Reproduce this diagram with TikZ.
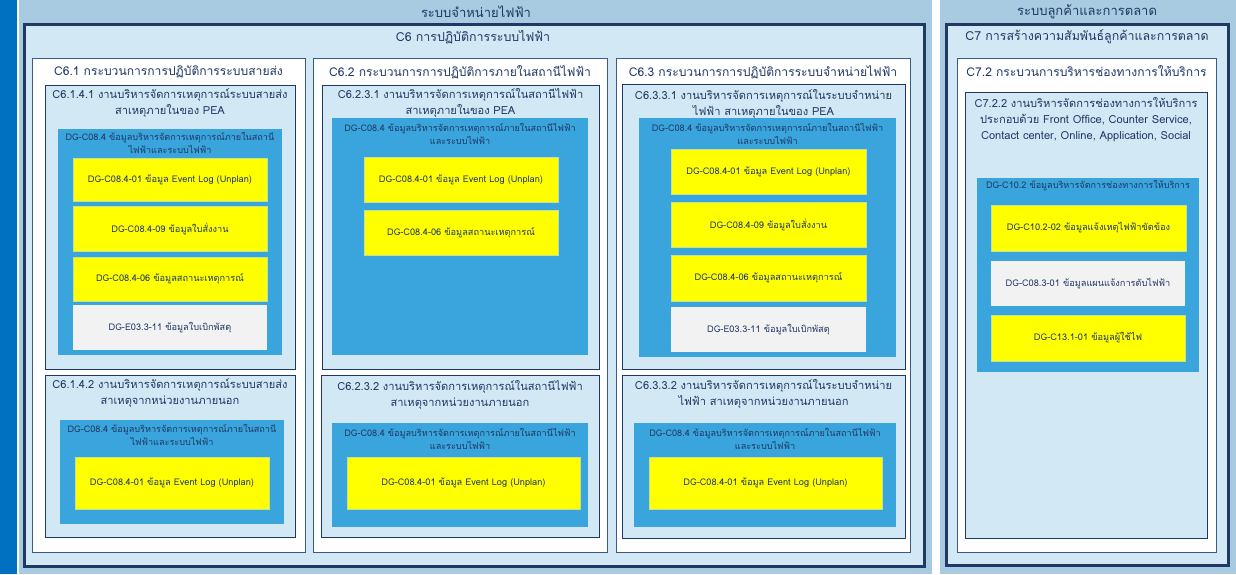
\documentclass[tikz,border=0pt]{standalone}
\usepackage{fontspec}
\setmainfont[Script=Thai]{Loma}
\definecolor{stripblue}{RGB}{0,112,192}
\definecolor{bgblue}{RGB}{169,203,225}
\definecolor{lightblue}{RGB}{210,232,245}
\definecolor{navy}{RGB}{31,56,100}
\definecolor{colborder}{RGB}{60,90,130}
\definecolor{midblue}{RGB}{58,165,220}
\definecolor{ylw}{RGB}{255,255,0}
\definecolor{ylwborder}{RGB}{190,225,160}
\definecolor{greybox}{RGB}{242,242,242}
\definecolor{txt}{RGB}{31,56,100}
\newcommand\bx[6]{\node[#1,anchor=north west,inner sep=0pt,outer sep=0pt,minimum width={(#5-#3)*1pt},minimum height={(#6-#4)*1pt}] (#2) at (#3,-#4) {};}
\tikzset{
  panel/.style={fill=bgblue,draw=none},
  strip/.style={fill=stripblue,draw=none},
  outerbox/.style={fill=lightblue,draw=navy,line width=3pt},
  colbox/.style={fill=white,draw=colborder,line width=0.8pt},
  subbox/.style={fill=lightblue,draw=navy,line width=0.8pt},
  bluebox/.style={fill=midblue,draw=none},
  ybox/.style={fill=ylw,draw=ylwborder,line width=0.6pt},
  gbox/.style={fill=greybox,draw=none},
  hdr/.style={text=txt,align=center,inner sep=0pt,font=\fontsize{13}{15}\selectfont},
  otitle/.style={text=txt,align=center,inner sep=0pt,font=\fontsize{12.4}{15}\selectfont},
  coltitle/.style={text=txt,align=center,inner sep=0pt,font=\fontsize{12.1}{15}\selectfont},
  subtitle/.style={text=txt,align=center,inner sep=0pt,font=\fontsize{11.1}{16}\selectfont},
  dgtitle/.style={text=txt,align=center,inner sep=0pt,font=\fontsize{9.1}{13}\selectfont},
  itemtxt/.style={text=txt,align=center,inner sep=0pt,font=\fontsize{9.2}{11}\selectfont},
}
\begin{document}
\begin{tikzpicture}[x=1pt,y=1pt]
\useasboundingbox (0,0) rectangle (1236,-574);
\fill[white] (0,0) rectangle (1236,-574);
% background panels
\bx{strip}{leftstrip}{0}{0}{17}{574}
\bx{panel}{panelA}{19}{0}{932}{574}
\bx{panel}{panelB}{940}{0}{1236}{574}
\node[hdr] (hA) at (476,-12) {ระบบจำหน่ายไฟฟ้า};
\node[hdr] (hB) at (1087,-12) {ระบบลูกค้าและการตลาด};
% outer boxes
\bx{outerbox}{C6}{24}{24.5}{924}{566}
\bx{outerbox}{C7}{946.5}{24.5}{1228}{565}
\node[otitle] (tC6) at (473,-37) {C6 การปฏิบัติการระบบไฟฟ้า};
\node[otitle] (tC7) at (1087,-37) {C7 การสร้างความสัมพันธ์ลูกค้าและการตลาด};
% ---------- C6.1 ----------
\bx{colbox}{C61}{32}{58}{305}{552}
\node[coltitle] (tC61) at (168.5,-72) {C6.1 กระบวนการการปฏิบัติการระบบสายส่ง};
\bx{subbox}{C6141}{45}{85}{295}{369}
\node[subtitle] (tC6141) at (170,-103) {C6.1.4.1 งานบริหารจัดการเหตุการณ์ระบบสายส่ง\\สาเหตุภายในของ PEA};
\bx{bluebox}{B6141}{58}{129}{282}{355}
\node[dgtitle] (tB6141) at (170,-143) {DG-C08.4 ข้อมูลบริหารจัดการเหตุการณ์ภายในสถานี\\ไฟฟ้าและระบบไฟฟ้า};
\bx{ybox}{Y6141a}{73}{158}{267}{201}
\node[itemtxt] (tY6141a) at (Y6141a) {DG-C08.4-01 ข้อมูล Event Log (Unplan)};
\bx{ybox}{Y6141b}{73}{206}{267}{251}
\node[itemtxt] (tY6141b) at (Y6141b) {DG-C08.4-09 ข้อมูลใบสั่งงาน};
\bx{ybox}{Y6141c}{73}{257}{267}{301}
\node[itemtxt] (tY6141c) at (Y6141c) {DG-C08.4-06 ข้อมูลสถานะเหตุการณ์};
\bx{gbox}{G6141}{73}{305}{267}{350}
\node[itemtxt] (tG6141) at (G6141) {DG-E03.3-11 ข้อมูลใบเบิกพัสดุ};
\bx{subbox}{C6142}{45}{375}{295}{537}
\node[subtitle] (tC6142) at (170,-393.5) {C6.1.4.2 งานบริหารจัดการเหตุการณ์ระบบสายส่ง\\สาเหตุจากหน่วยงานภายนอก};
\bx{bluebox}{B6142}{60}{420}{284}{524}
\node[dgtitle] (tB6142) at (172,-434.5) {DG-C08.4 ข้อมูลบริหารจัดการเหตุการณ์ภายในสถานี\\ไฟฟ้าและระบบไฟฟ้า};
\bx{ybox}{Y6142}{75}{457}{269}{509}
\node[itemtxt] (tY6142) at (Y6142) {DG-C08.4-01 ข้อมูล Event Log (Unplan)};
% ---------- C6.2 ----------
\bx{colbox}{C62}{313}{58}{607}{552}
\node[coltitle] (tC62) at (460,-72) {C6.2 กระบวนการการปฏิบัติการภายในสถานีไฟฟ้า};
\bx{subbox}{C6231}{322}{85}{599}{369}
\node[subtitle] (tC6231) at (460.5,-103) {C6.2.3.1 งานบริหารจัดการเหตุการณ์ในสถานีไฟฟ้า\\สาเหตุภายในของ PEA};
\bx{bluebox}{B6231}{332}{118}{588}{355}
\node[dgtitle] (tB6231) at (460,-133.5) {DG-C08.4 ข้อมูลบริหารจัดการเหตุการณ์ภายในสถานีไฟฟ้า\\และระบบไฟฟ้า};
\bx{ybox}{Y6231a}{364}{157}{558}{202}
\node[itemtxt] (tY6231a) at (Y6231a) {DG-C08.4-01 ข้อมูล Event Log (Unplan)};
\bx{ybox}{Y6231b}{364}{210}{558}{255}
\node[itemtxt] (tY6231b) at (Y6231b) {DG-C08.4-06 ข้อมูลสถานะเหตุการณ์};
\bx{subbox}{C6232}{321}{375}{599}{537}
\node[subtitle] (tC6232) at (460,-395) {C6.2.3.2 งานบริหารจัดการเหตุการณ์ในสถานีไฟฟ้า\\สาเหตุจากหน่วยงานภายนอก};
\bx{bluebox}{B6232}{332}{423}{588}{527}
\node[dgtitle] (tB6232) at (460,-438.5) {DG-C08.4 ข้อมูลบริหารจัดการเหตุการณ์ภายในสถานีไฟฟ้า\\และระบบไฟฟ้า};
\bx{ybox}{Y6232}{347}{457}{580}{509}
\node[itemtxt] (tY6232) at (Y6232) {DG-C08.4-01 ข้อมูล Event Log (Unplan)};
% ---------- C6.3 ----------
\bx{colbox}{C63}{616}{58}{910}{552}
\node[coltitle] (tC63) at (763,-72) {C6.3 กระบวนการการปฏิบัติการระบบจำหน่ายไฟฟ้า};
\bx{subbox}{C6331}{622}{84}{905}{369}
\node[subtitle] (tC6331) at (763.5,-103.5) {C6.3.3.1 งานบริหารจัดการเหตุการณ์ในระบบจำหน่าย\\ไฟฟ้า สาเหตุภายในของ PEA};
\bx{bluebox}{B6331}{639}{118}{896}{357}
\node[dgtitle] (tB6331) at (767.5,-133.5) {DG-C08.4 ข้อมูลบริหารจัดการเหตุการณ์ภายในสถานีไฟฟ้า\\และระบบไฟฟ้า};
\bx{ybox}{Y6331a}{671}{149}{866}{194}
\node[itemtxt] (tY6331a) at (Y6331a) {DG-C08.4-01 ข้อมูล Event Log (Unplan)};
\bx{ybox}{Y6331b}{671}{202}{866}{247}
\node[itemtxt] (tY6331b) at (Y6331b) {DG-C08.4-09 ข้อมูลใบสั่งงาน};
\bx{ybox}{Y6331c}{671}{255}{866}{301}
\node[itemtxt] (tY6331c) at (Y6331c) {DG-C08.4-06 ข้อมูลสถานะเหตุการณ์};
\bx{gbox}{G6331}{671}{307}{866}{352}
\node[itemtxt] (tG6331) at (G6331) {DG-E03.3-11 ข้อมูลใบเบิกพัสดุ};
\bx{subbox}{C6332}{622}{375}{905}{538}
\node[subtitle] (tC6332) at (763.5,-393.5) {C6.3.3.2 งานบริหารจัดการเหตุการณ์ในระบบจำหน่าย\\ไฟฟ้า สาเหตุจากหน่วยงานภายนอก};
\bx{bluebox}{B6332}{634}{423}{896}{527}
\node[dgtitle] (tB6332) at (765,-438.5) {DG-C08.4 ข้อมูลบริหารจัดการเหตุการณ์ภายในสถานีไฟฟ้า\\และระบบไฟฟ้า};
\bx{ybox}{Y6332}{649}{457}{882}{509}
\node[itemtxt] (tY6332) at (Y6332) {DG-C08.4-01 ข้อมูล Event Log (Unplan)};
% ---------- C7.2 ----------
\bx{colbox}{C72}{957}{58}{1216}{552}
\node[coltitle] (tC72) at (1086.5,-71) {C7.2 กระบวนการบริหารช่องทางการให้บริการ};
\bx{subbox}{C722}{965}{92}{1207}{538}
\node[subtitle] (tC722) at (1086,-120) {C7.2.2 งานบริหารจัดการช่องทางการให้บริการ\\ประกอบด้วย Front Office, Counter Service,\\Contact center, Online, Application, Social};
\bx{bluebox}{B1022}{977}{178}{1199}{372}
\node[dgtitle] (tB1022) at (1088,-186) {DG-C10.2 ข้อมูลบริหารจัดการช่องทางการให้บริการ};
\bx{ybox}{Y1022a}{991}{205}{1186}{251}
\node[itemtxt] (tY1022a) at (Y1022a) {DG-C10.2-02 ข้อมูลแจ้งเหตุไฟฟ้าขัดข้อง};
\bx{gbox}{G0831}{991}{261}{1185}{306}
\node[itemtxt] (tG0831) at (G0831) {DG-C08.3-01 ข้อมูลแผนแจ้งการดับไฟฟ้า};
\bx{ybox}{Y1311}{991}{315}{1185}{361}
\node[itemtxt] (tY1311) at (Y1311) {DG-C13.1-01 ข้อมูลผู้ใช้ไฟ};
\end{tikzpicture}
\end{document}
